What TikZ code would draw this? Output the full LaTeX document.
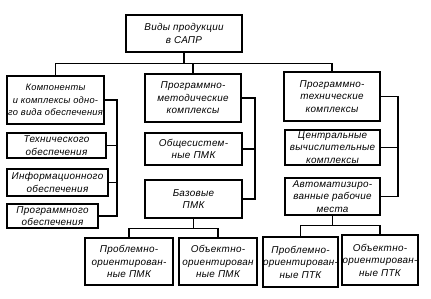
\documentclass[tikz,border=0pt]{standalone}
\usepackage{fontspec}
\setmainfont{Liberation Sans}[LetterSpace=3]
\usepackage{tikz}
\usetikzlibrary{calc,positioning}

\begin{document}
\begin{tikzpicture}[
  x=1pt, y=-1pt,
  blk/.style={rectangle, draw, line width=1.2pt, inner xsep=0pt, inner ysep=1pt, align=center,
    font=\itshape\fontsize{9.9}{12.5}\selectfont},
  bx/.style 2 args={blk, minimum width=#1, minimum height=#2},
  link/.style={draw, line width=1.1pt}
]
\useasboundingbox (0,0) rectangle (431,298);
\node[bx={116pt}{37pt}] (top) at (184,33.5) {Виды продукции\\в САПР};
\node[bx={97pt}{48pt}, font=\itshape\fontsize{9.3}{12.5}\selectfont] (comp) at (55.5,100) {Компоненты\\и комплексы одно-\\го вида обеспечения};
\node[bx={99pt}{25pt}] (tech) at (56.5,145.5) {Технического\\обеспечения};
\node[bx={101pt}{27pt}] (info) at (57.5,182.5) {Информационного\\обеспечения};
\node[bx={91pt}{24pt}] (prog) at (52.5,216) {Программного\\обеспечения};
\node[bx={96pt}{48pt}] (pmk) at (193,98) {Программно-\\методические\\комплексы};
\node[bx={97pt}{32pt}] (obsh) at (193.5,149) {Общесистем-\\ные ПМК};
\node[bx={97pt}{38pt}] (baz) at (193.5,199) {Базовые\\ПМК};
\node[bx={96pt}{49pt}] (ptk) at (332,96.5) {Программно-\\технические\\комплексы};
\node[bx={95pt}{35pt}] (cvk) at (332.5,147.5) {Центральные\\вычислительные\\комплексы};
\node[bx={95pt}{37pt}] (arm) at (332.5,196.5) {Автоматизиро-\\ванные рабочие\\места};
\node[bx={88pt}{47pt}] (ppmk) at (129,261.5) {Проблемно-\\ориентирован-\\ные ПМК};
\node[bx={78pt}{47pt}] (opmk) at (218,261.5) {Объектно-\\ориентирован\\ные ПМК};
\node[bx={75pt}{50pt}] (pptk) at (300.5,262) {Проблемно-\\ориентирован-\\ные ПТК};
\node[bx={76pt}{50pt}] (optk) at (380,260) {Объектно-\\ориентирован-\\ные ПТК};

\draw[link] (top.south) -- ++(0,11) coordinate (tb);
\draw[link] (comp.north) |- (tb) -| (ptk.north);
\draw[link] (pmk.north) -- (pmk.north |- tb);

\coordinate (lx) at (117,0);
\draw[link] (comp.east) -- (comp.east -| lx) -- (prog.east -| lx) -- (prog.east);
\draw[link] (tech.east) -- (tech.east -| lx);
\draw[link] (info.east) -- (info.east -| lx);

\coordinate (mx) at (255,0);
\draw[link] (pmk.east) -- (pmk.east -| mx) -- (baz.east -| mx) -- (baz.east);
\draw[link] (obsh.east) -- (obsh.east -| mx);

\coordinate (rx) at (398,0);
\draw[link] (ptk.east) -- (ptk.east -| rx) -- (arm.east -| rx) -- (arm.east);
\draw[link] (cvk.east) -- (cvk.east -| rx);

\draw[link] (baz.south) -- ++(0,10) coordinate (bb);
\draw[link] (ppmk.north) |- (bb) -| (opmk.north);
\draw[link] (arm.south) -- ++(0,10) coordinate (ab);
\draw[link] (pptk.north) |- (ab) -| (optk.north);
\end{tikzpicture}
\end{document}
